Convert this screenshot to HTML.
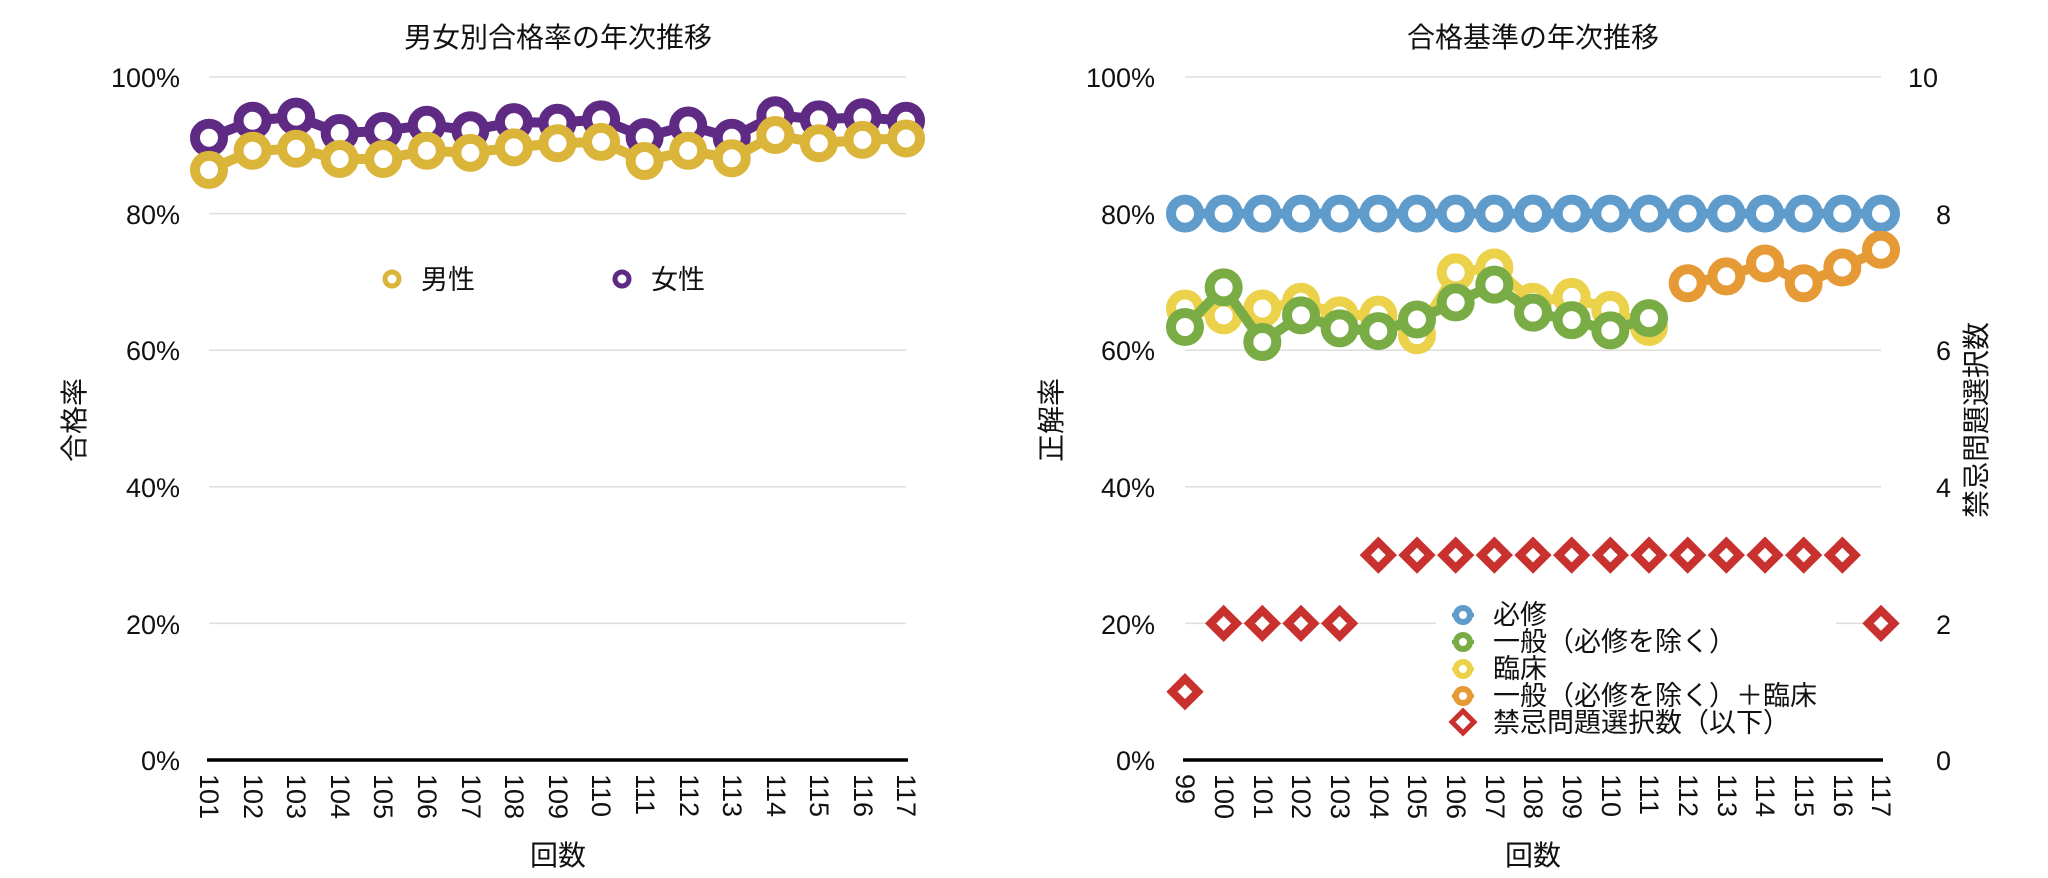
<!DOCTYPE html>
<html><head><meta charset="utf-8"><style>
html,body{margin:0;padding:0;background:#fff;}
svg{display:block;font-family:"Liberation Sans","Noto Sans CJK JP",sans-serif;}
.t{font-size:28px;fill:#111}
.tk{font-size:27px;fill:#111}
</style></head><body>
<svg id="s" width="2048" height="878" viewBox="0 0 2048 878" xmlns="http://www.w3.org/2000/svg">
<g id="grid"></g>
<g id="series"></g>
<text class="t" x="558" y="47" text-anchor="middle" font-size="30">男女別合格率の年次推移</text>
<text class="t" x="1533" y="47" text-anchor="middle" font-size="30">合格基準の年次推移</text>
<g class="tk" text-anchor="end">
<text x="180" y="87">100%</text><text x="180" y="224">80%</text><text x="180" y="360">60%</text>
<text x="180" y="497">40%</text><text x="180" y="634">20%</text><text x="180" y="770">0%</text>
<text x="1155" y="87">100%</text><text x="1155" y="224">80%</text><text x="1155" y="360">60%</text>
<text x="1155" y="497">40%</text><text x="1155" y="634">20%</text><text x="1155" y="770">0%</text>
</g>
<g class="tk" text-anchor="start">
<text x="1908" y="87">10</text><text x="1936" y="224">8</text><text x="1936" y="360">6</text>
<text x="1936" y="497">4</text><text x="1936" y="634">2</text><text x="1936" y="770">0</text>
</g>
<text class="t" transform="translate(84,420) rotate(-90)" text-anchor="middle">合格率</text>
<text class="t" transform="translate(1061,420) rotate(-90)" text-anchor="middle">正解率</text>
<text class="t" transform="translate(1986,420) rotate(-90)" text-anchor="middle">禁忌問題選択数</text>
<text class="t" x="558" y="865" text-anchor="middle">回数</text>
<text class="t" x="1533" y="865" text-anchor="middle">回数</text>
<g class="tk" id="xl">
<text transform="translate(200,774) rotate(90)">101</text><text transform="translate(244,774) rotate(90)">102</text>
<text transform="translate(287,774) rotate(90)">103</text><text transform="translate(331,774) rotate(90)">104</text>
<text transform="translate(374,774) rotate(90)">105</text><text transform="translate(418,774) rotate(90)">106</text>
<text transform="translate(462,774) rotate(90)">107</text><text transform="translate(505,774) rotate(90)">108</text>
<text transform="translate(549,774) rotate(90)">109</text><text transform="translate(592,774) rotate(90)">110</text>
<text transform="translate(636,774) rotate(90)">111</text><text transform="translate(680,774) rotate(90)">112</text>
<text transform="translate(723,774) rotate(90)">113</text><text transform="translate(767,774) rotate(90)">114</text>
<text transform="translate(810,774) rotate(90)">115</text><text transform="translate(854,774) rotate(90)">116</text>
<text transform="translate(897,774) rotate(90)">117</text>
<text transform="translate(1176,774) rotate(90)">99</text><text transform="translate(1215,774) rotate(90)">100</text>
<text transform="translate(1254,774) rotate(90)">101</text><text transform="translate(1292,774) rotate(90)">102</text>
<text transform="translate(1331,774) rotate(90)">103</text><text transform="translate(1370,774) rotate(90)">104</text>
<text transform="translate(1408,774) rotate(90)">105</text><text transform="translate(1447,774) rotate(90)">106</text>
<text transform="translate(1486,774) rotate(90)">107</text><text transform="translate(1524,774) rotate(90)">108</text>
<text transform="translate(1563,774) rotate(90)">109</text><text transform="translate(1602,774) rotate(90)">110</text>
<text transform="translate(1640,774) rotate(90)">111</text><text transform="translate(1679,774) rotate(90)">112</text>
<text transform="translate(1718,774) rotate(90)">113</text><text transform="translate(1756,774) rotate(90)">114</text>
<text transform="translate(1795,774) rotate(90)">115</text><text transform="translate(1834,774) rotate(90)">116</text>
<text transform="translate(1872,774) rotate(90)">117</text>
</g>
<g>
<line x1="383" y1="279" x2="401" y2="279" stroke="#dbb43a" stroke-width="4"/>
<circle cx="392" cy="279" r="7" fill="#fff" stroke="#dbb43a" stroke-width="5"/>
<text class="tk" x="421" y="289">男性</text>
<line x1="613" y1="279" x2="631" y2="279" stroke="#5e2a84" stroke-width="4"/>
<circle cx="622" cy="279" r="7" fill="#fff" stroke="#5e2a84" stroke-width="5"/>
<text class="tk" x="651" y="289">女性</text>
</g>
<g id="rleg">
<rect x="1436" y="598" width="400" height="140" fill="#fff"/>
<line x1="1452" y1="615" x2="1474" y2="615" stroke="#5f9ccb" stroke-width="4"/><circle cx="1463" cy="615" r="7" fill="#fff" stroke="#5f9ccb" stroke-width="6"/>
<line x1="1452" y1="642" x2="1474" y2="642" stroke="#7aac45" stroke-width="4"/><circle cx="1463" cy="642" r="7" fill="#fff" stroke="#7aac45" stroke-width="6"/>
<line x1="1452" y1="669" x2="1474" y2="669" stroke="#ecd24a" stroke-width="4"/><circle cx="1463" cy="669" r="7" fill="#fff" stroke="#ecd24a" stroke-width="6"/>
<line x1="1452" y1="696" x2="1474" y2="696" stroke="#e59a35" stroke-width="4"/><circle cx="1463" cy="696" r="7" fill="#fff" stroke="#e59a35" stroke-width="6"/>
<path d="M1463 711 L1474 722 L1463 733 L1452 722 Z" fill="#fff" stroke="#c8312e" stroke-width="5"/>
<g class="tk" font-size="26">
<text x="1493" y="624">必修</text>
<text x="1493" y="651">一般（必修を除く）</text>
<text x="1493" y="678">臨床</text>
<text x="1493" y="705">一般（必修を除く）＋臨床</text>
<text x="1493" y="732">禁忌問題選択数（以下）</text>
</g>
</g>
</svg>
<script>
(function(){
var NS="http://www.w3.org/2000/svg";
var g=document.getElementById('grid'),se=document.getElementById('series');
function el(p,t,a){var e=document.createElementNS(NS,t);for(var k in a)e.setAttribute(k,a[k]);p.appendChild(e);return e;}
var Y0=760,Y100=77;function Y(p){return Y0-(Y0-Y100)*p/100;}
[[209,906],[1185,1881]].forEach(function(r){
 for(var i=1;i<=5;i++)el(g,'line',{x1:r[0],x2:r[1],y1:Y(i*20),y2:Y(i*20),stroke:'#dedede','stroke-width':1.5});
 el(g,'line',{x1:r[0]-2,x2:r[1]+2,y1:Y0,y2:Y0,stroke:'#000','stroke-width':3.5});
});
function circ(xs,ys,col){
 var pts=xs.map(function(x,i){return x+','+ys[i];}).join(' ');
 el(se,'polyline',{points:pts,fill:'none',stroke:col,'stroke-width':10,'stroke-linejoin':'round'});
 xs.forEach(function(x,i){el(se,'circle',{cx:x,cy:ys[i],r:14,fill:'#fff',stroke:col,'stroke-width':10});});
}
var LX=[],RX=[];for(var i=0;i<17;i++)LX.push(209+i*697/16);for(i=0;i<19;i++)RX.push(1185+i*696/18);
var male=[86.4,89.2,89.5,88,88,89.2,88.9,89.7,90.3,90.5,87.7,89.2,88.1,91.5,90.3,90.8,91];
var fem=[91.1,93.6,94.2,91.8,92.1,93.0,92.2,93.4,93.3,93.8,91.2,92.9,91.1,94.4,93.8,94.1,93.6];
circ(LX,fem.map(Y),'#5e2a84');
circ(LX,male.map(Y),'#dbb43a');
var blue=[];for(i=0;i<19;i++)blue.push(80);
circ(RX,blue.map(Y),'#5f9ccb');
var yel=[66.1,65.1,66.1,67.1,65.1,65.2,62.2,71.4,72.1,67.1,67.8,65.9,63.4];
var grn=[63.4,69.2,61.2,65.1,63.2,62.8,64.5,67.0,69.6,65.5,64.4,62.9,64.7];
circ(RX.slice(0,13),yel.map(Y),'#ecd24a');
circ(RX.slice(0,13),grn.map(Y),'#7aac45');
var org=[69.8,70.8,72.7,69.8,72.1,74.7];
circ(RX.slice(13),org.map(Y),'#e59a35');
var red=[1,2,2,2,2,3,3,3,3,3,3,3,3,3,3,3,3,3,2];
red.forEach(function(v,i){var x=RX[i],y=Y(v*10),h=13;
 el(se,'path',{d:'M'+x+' '+(y-h)+' L'+(x+h)+' '+y+' L'+x+' '+(y+h)+' L'+(x-h)+' '+y+' Z',fill:'#fff',stroke:'#c8312e','stroke-width':8,'stroke-linejoin':'miter'});});
var s=document.getElementById('s');s.appendChild(document.getElementById('rleg'));
})();
</script>
</body></html>
